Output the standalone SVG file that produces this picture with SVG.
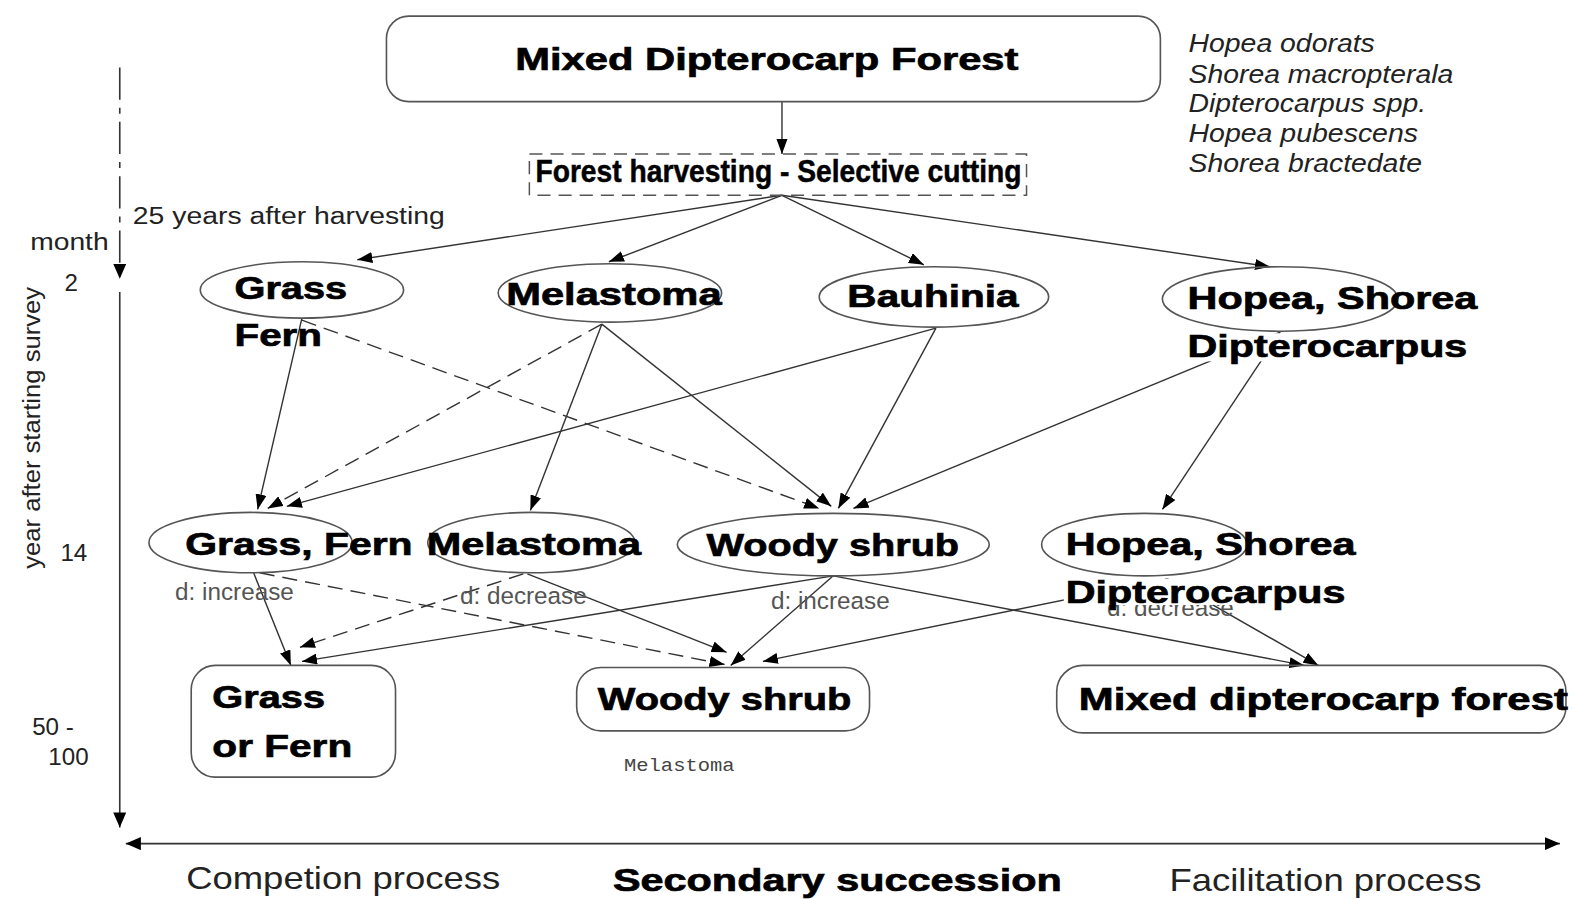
<svg xmlns="http://www.w3.org/2000/svg" width="1578" height="899" viewBox="0 0 1578 899">
<defs>
<marker id="ah" markerWidth="15" markerHeight="11" refX="15" refY="5.5" orient="auto" markerUnits="userSpaceOnUse"><path d="M0,0 L15,5.5 L0,11 z" fill="#000"/></marker>
<marker id="ahs" markerWidth="15" markerHeight="13" refX="15" refY="6.5" orient="auto" markerUnits="userSpaceOnUse"><path d="M0,0 L15,6.5 L0,13 z" fill="#000"/></marker>
<marker id="ahb" markerWidth="15" markerHeight="13" refX="0" refY="6.5" orient="auto" markerUnits="userSpaceOnUse"><path d="M15,0 L0,6.5 L15,13 z" fill="#000"/></marker>
<style>
.n{fill:none;stroke:#555;stroke-width:1.6}
.c{fill:none;stroke:#333;stroke-width:1.4;marker-end:url(#ah)}
.d{stroke-dasharray:15 8}
.b{font-family:"Liberation Sans",Arial,sans-serif;font-weight:bold;font-size:32px;fill:#000;stroke:#000;stroke-width:0.7}
.g{font-family:"Liberation Sans",Arial,sans-serif;font-size:23px;fill:#555}
.t{font-family:"Liberation Sans",Arial,sans-serif;font-size:24px;fill:#222}
.i{font-family:"Liberation Sans",Arial,sans-serif;font-style:italic;font-size:25px;fill:#222}
.p{font-family:"Liberation Sans",Arial,sans-serif;font-size:31px;fill:#222}
</style>
</defs>
<rect width="1578" height="899" fill="#fff"/>
<g transform="scale(1.0064,1.0067)">
<g id="axes">
<line x1="119" y1="67" x2="119" y2="277" stroke="#333" stroke-width="1.6" stroke-dasharray="32 8 6 8" marker-end="url(#ahs)"/>
<line x1="119" y1="290" x2="119" y2="822" stroke="#333" stroke-width="1.6" marker-end="url(#ahs)"/>
<line x1="125" y1="838" x2="1550" y2="838" stroke="#333" stroke-width="1.8" marker-start="url(#ahb)" marker-end="url(#ahs)"/>
<text class="t" x="30" y="248" textLength="78" lengthAdjust="spacingAndGlyphs">month</text>
<text class="t" x="64" y="289">2</text>
<text class="t" x="132" y="223" textLength="310" lengthAdjust="spacingAndGlyphs">25 years after harvesting</text>
<text class="t" transform="translate(40,425) rotate(-90)" text-anchor="middle" textLength="280" lengthAdjust="spacingAndGlyphs">year after starting survey</text>
<text class="t" x="60" y="557">14</text>
<text class="t" x="32" y="730">50 -</text>
<text class="t" x="48" y="760">100</text>
<text class="p" x="185" y="883" textLength="312" lengthAdjust="spacingAndGlyphs">Competion process</text>
<text class="b" x="609" y="885" textLength="446" lengthAdjust="spacingAndGlyphs">Secondary succession</text>
<text class="p" x="1162" y="885" textLength="310" lengthAdjust="spacingAndGlyphs">Facilitation process</text>
</g>
<g id="species">
<text class="i" x="1181" y="52" textLength="185" lengthAdjust="spacingAndGlyphs">Hopea odorats</text>
<text class="i" x="1181" y="82" textLength="263" lengthAdjust="spacingAndGlyphs">Shorea macropterala</text>
<text class="i" x="1181" y="111" textLength="236" lengthAdjust="spacingAndGlyphs">Dipterocarpus spp.</text>
<text class="i" x="1181" y="141" textLength="228" lengthAdjust="spacingAndGlyphs">Hopea pubescens</text>
<text class="i" x="1181" y="171" textLength="232" lengthAdjust="spacingAndGlyphs">Shorea bractedate</text>
</g>
<g id="connectors">
<line class="c" x1="777" y1="101" x2="777" y2="153"/>
<line class="c" x1="777" y1="194" x2="355" y2="258"/>
<line class="c" x1="777" y1="194" x2="605" y2="260"/>
<line class="c" x1="777" y1="194" x2="918" y2="263"/>
<line class="c" x1="777" y1="194" x2="1262" y2="265"/>
<line class="c" x1="300" y1="316" x2="256" y2="506"/>
<line class="c d" x1="300" y1="318" x2="814" y2="505"/>
<line class="c d" x1="598" y1="322" x2="266" y2="505"/>
<line class="c" x1="598" y1="322" x2="527" y2="507"/>
<line class="c" x1="598" y1="322" x2="826" y2="503"/>
<line class="c" x1="930" y1="326" x2="285" y2="503"/>
<line class="c" x1="930" y1="326" x2="833" y2="505"/>
<line class="c" x1="1272" y1="330" x2="848" y2="505"/>
<line class="c" x1="1272" y1="330" x2="1155" y2="506"/>
<line class="c" x1="252" y1="569" x2="289" y2="661"/>
<line class="c d" x1="258" y1="569" x2="720" y2="660"/>
<line class="c d" x1="520" y1="570" x2="298" y2="643"/>
<line class="c" x1="524" y1="570" x2="722" y2="648"/>
<line class="c" x1="828" y1="572" x2="300" y2="657"/>
<line class="c" x1="828" y1="572" x2="726" y2="661"/>
<line class="c" x1="828" y1="572" x2="1296" y2="661"/>
<line class="c" x1="1160" y1="575" x2="758" y2="657"/>
<line class="c" x1="1160" y1="575" x2="1310" y2="661"/>
</g>
<g id="labels">
<text class="g" x="174" y="596" textLength="118" lengthAdjust="spacingAndGlyphs">d: increase</text>
<text class="g" x="457" y="600" textLength="126" lengthAdjust="spacingAndGlyphs">d: decrease</text>
<text class="g" x="766" y="605" textLength="118" lengthAdjust="spacingAndGlyphs">d: increase</text>
<text class="g" x="1100" y="612" textLength="126" lengthAdjust="spacingAndGlyphs">d: decrease</text>
<text x="620" y="766" font-family="'Liberation Mono',monospace" font-size="19" fill="#444" textLength="110" lengthAdjust="spacingAndGlyphs">Melastoma</text>
</g>
<g id="n-mdf">
<rect class="n" x="384" y="16" width="769" height="85" rx="22"/>
<text class="b" x="512" y="70" font-size="33" textLength="500" lengthAdjust="spacingAndGlyphs">Mixed Dipterocarp Forest</text>
</g>
<g id="n-harvest">
<rect x="526" y="153" width="494" height="41" fill="none" stroke="#555" stroke-width="1.5" stroke-dasharray="13 8"/>
<text class="b" x="532" y="181" font-size="20" style="stroke-width:0.5" textLength="483" lengthAdjust="spacingAndGlyphs">Forest harvesting - Selective cutting</text>
</g>
<g id="n-grass1">
<ellipse class="n" cx="300" cy="288" rx="101" ry="28"/>
<text class="b" x="233" y="297" textLength="112" lengthAdjust="spacingAndGlyphs">Grass</text>
<text class="b" x="233" y="344" textLength="87" lengthAdjust="spacingAndGlyphs">Fern</text>
</g>
<g id="n-mel1">
<ellipse class="n" cx="606" cy="291" rx="111" ry="29"/>
<text class="b" x="503" y="303" textLength="214" lengthAdjust="spacingAndGlyphs">Melastoma</text>
</g>
<g id="n-bau1">
<ellipse class="n" cx="928" cy="295" rx="114" ry="30"/>
<text class="b" x="842" y="305" textLength="170" lengthAdjust="spacingAndGlyphs">Bauhinia</text>
</g>
<g id="n-hopea1">
<ellipse class="n" cx="1272" cy="297" rx="117" ry="32"/>
<text class="b" x="1180" y="307" textLength="288" lengthAdjust="spacingAndGlyphs">Hopea, Shorea</text>
<rect x="1178" y="331" width="284" height="28" fill="#fff"/>
<text class="b" x="1180" y="355" textLength="278" lengthAdjust="spacingAndGlyphs">Dipterocarpus</text>
</g>
<g id="n-grass2">
<ellipse class="n" cx="249" cy="539" rx="101" ry="30"/>
<text class="b" x="184" y="551" textLength="226" lengthAdjust="spacingAndGlyphs">Grass, Fern</text>
</g>
<g id="n-mel2">
<ellipse class="n" cx="528" cy="539" rx="103" ry="30"/>
<text class="b" x="424" y="551" textLength="213" lengthAdjust="spacingAndGlyphs">Melastoma</text>
</g>
<g id="n-woody2">
<ellipse class="n" cx="828" cy="541" rx="155" ry="31"/>
<text class="b" x="702" y="552" textLength="251" lengthAdjust="spacingAndGlyphs">Woody shrub</text>
</g>
<g id="n-hopea2">
<ellipse class="n" cx="1137" cy="541" rx="102" ry="31"/>
<text class="b" x="1059" y="551" textLength="288" lengthAdjust="spacingAndGlyphs">Hopea, Shorea</text>
<rect x="1057" y="575" width="284" height="26" fill="#fff"/>
<text class="b" x="1059" y="599" textLength="278" lengthAdjust="spacingAndGlyphs">Dipterocarpus</text>
</g>
<g id="n-grass3">
<rect class="n" x="190" y="661" width="203" height="111" rx="24"/>
<text class="b" x="211" y="703" textLength="112" lengthAdjust="spacingAndGlyphs">Grass</text>
<text class="b" x="211" y="752" textLength="139" lengthAdjust="spacingAndGlyphs">or Fern</text>
</g>
<g id="n-woody3">
<rect class="n" x="573" y="663" width="291" height="63" rx="24"/>
<text class="b" x="594" y="705" textLength="252" lengthAdjust="spacingAndGlyphs">Woody shrub</text>
</g>
<g id="n-mdf3">
<rect class="n" x="1050" y="661" width="506" height="67" rx="26"/>
<text class="b" x="1072" y="705" textLength="486" lengthAdjust="spacingAndGlyphs">Mixed dipterocarp forest</text>
</g>
</g>
</svg>
